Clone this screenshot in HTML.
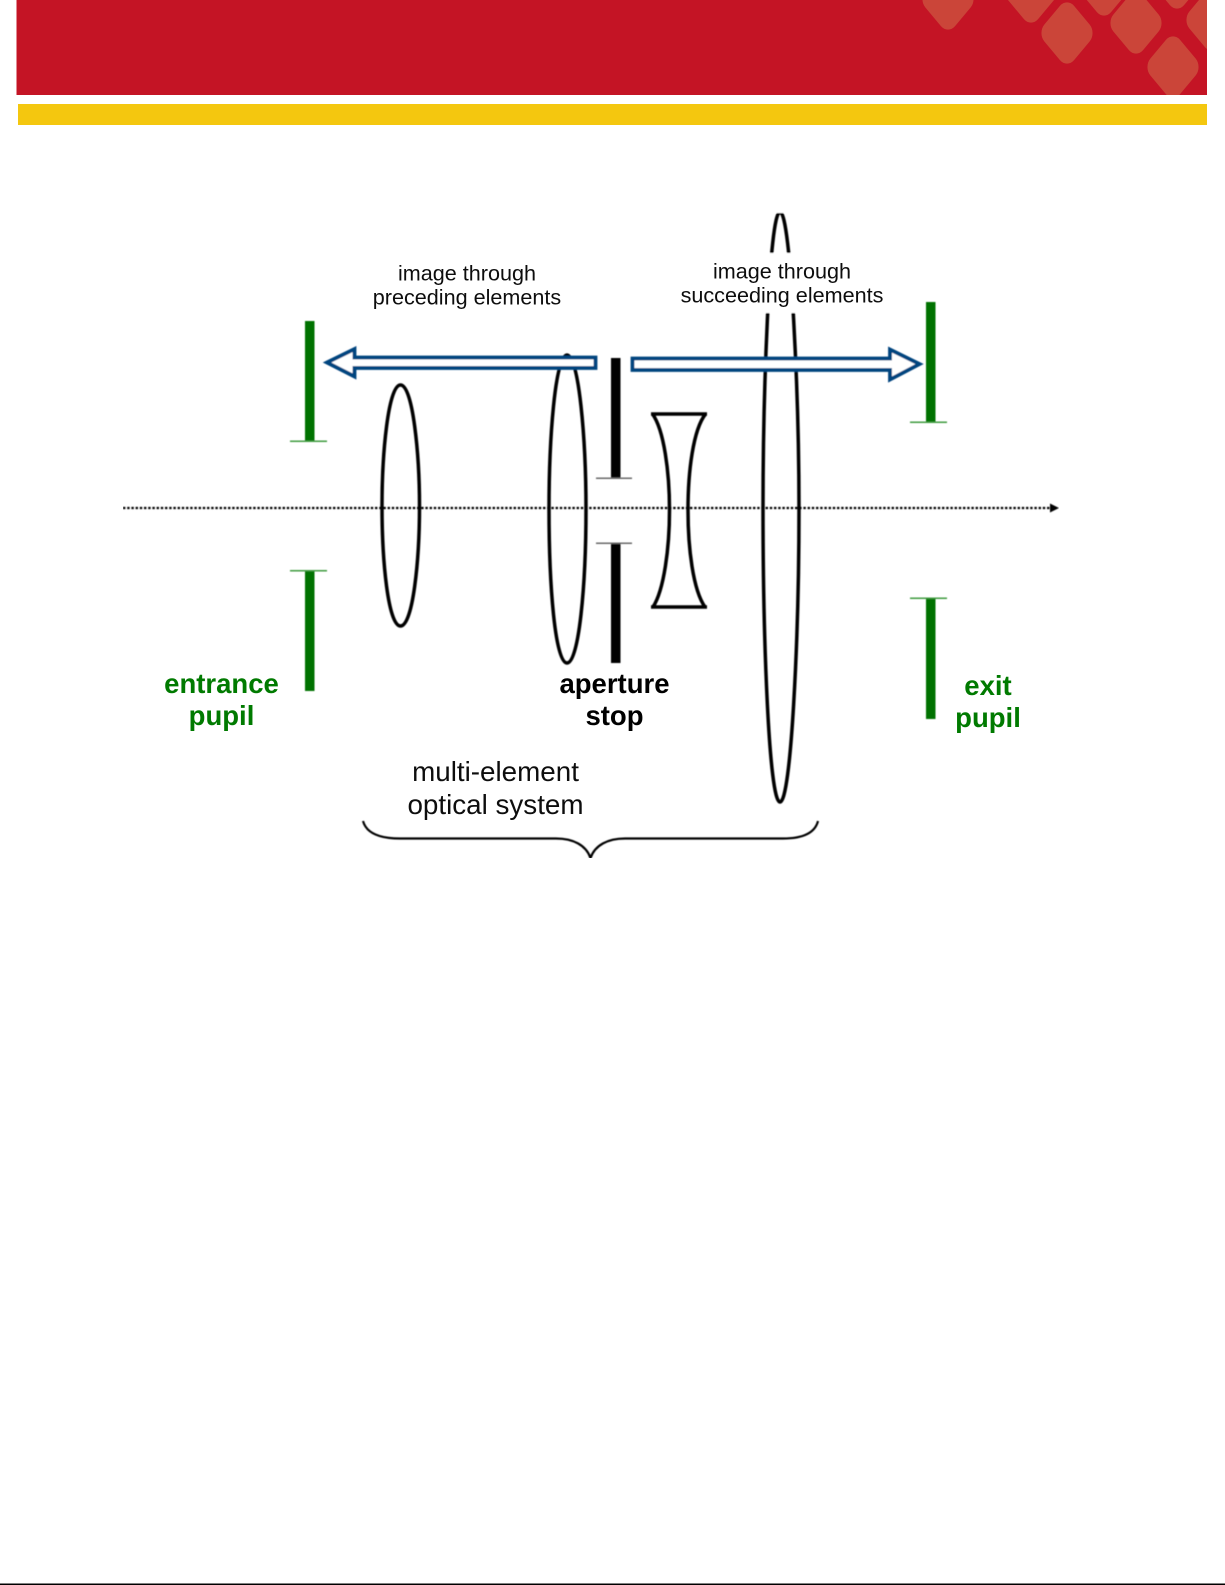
<!DOCTYPE html>
<html>
<head>
<meta charset="utf-8">
<style>
html,body{margin:0;padding:0;background:#fff}
svg{display:block}
.t{font-family:"Liberation Sans",Arial,sans-serif;text-anchor:middle}
</style>
</head>
<body>
<svg width="1225" height="1585" viewBox="0 0 1225 1585" xmlns="http://www.w3.org/2000/svg">
<rect width="1225" height="1585" fill="#fff"/>
<defs>
<clipPath id="band"><rect x="16.500" y="0" width="1190.500" height="95"/></clipPath>
<filter id="soft" x="0" y="0" width="100%" height="100%"><feGaussianBlur stdDeviation="0.45"/></filter>
<filter id="softer" x="0" y="0" width="100%" height="100%"><feGaussianBlur stdDeviation="0.25"/></filter>
</defs>
<rect x="16.500" y="0" width="1190.500" height="95" fill="#c41425"/>
<g clip-path="url(#band)" fill="#cb4539">
<rect x="-21" y="-21" width="42" height="42" rx="10" transform="translate(948,-1) scale(1,1.2) rotate(45)"/>
<rect x="-21" y="-21" width="42" height="42" rx="10" transform="translate(1031,-8) scale(1,1.2) rotate(45)"/>
<rect x="-21" y="-21" width="42" height="42" rx="10" transform="translate(1067,33) scale(1,1.2) rotate(45)"/>
<rect x="-21" y="-21" width="42" height="42" rx="10" transform="translate(1104,-15) scale(1,1.2) rotate(45)"/>
<rect x="-21" y="-21" width="42" height="42" rx="10" transform="translate(1136,23) scale(1,1.2) rotate(45)"/>
<rect x="-21" y="-21" width="42" height="42" rx="10" transform="translate(1177,-22) scale(1,1.2) rotate(45)"/>
<rect x="-21" y="-21" width="42" height="42" rx="10" transform="translate(1173,67) scale(1,1.2) rotate(45)"/>
<rect x="-21" y="-21" width="42" height="42" rx="10" transform="translate(1212,20) scale(1,1.2) rotate(45)"/>
</g>
<rect x="18" y="104" width="1189" height="21" fill="#f4c70f"/>

<g filter="url(#soft)">
<!-- axis -->
<line x1="123" y1="508" x2="1051" y2="508" stroke="#000" stroke-width="2.300" stroke-dasharray="2.400 1.800"/>
<polygon points="1050,503.500 1059,508 1050,512.500" fill="#000"/>

<!-- lenses -->
<g fill="none" stroke="#000" stroke-width="3.500">
<path d="M400.500 385 C388 385 382 455 382 506 C382 560 388 626 400.500 626 C413 626 419.500 560 419.500 506 C419.500 455 413 385 400.500 385 Z"/>
<path d="M567 355 C555 355 549 440 549 509 C549 585 555 663 567 663 C579 663 586 585 586 509 C586 440 579 355 567 355 Z"/>
<path d="M651 414 L707 414 M652.500 414 C664 430 669.500 472 669.500 510 C669.500 548 664 590 653 607 M705.500 414 C693 430 688 472 688 510 C688 548 693 590 705 607 M651 607 L707 607"/>
<path d="M780 212 C769 212 763 400 763 508 C763 640 769 802 780 802 C791 802 799 640 799 508 C799 400 791 212 780 212 Z"/>
</g>
<rect x="740" y="204" width="80" height="9" fill="#fff"/>

<!-- aperture stop -->
<rect x="611" y="358" width="9.500" height="120" fill="#000"/>
<rect x="596" y="477.500" width="36" height="1.500" fill="#666"/>
<rect x="611" y="543" width="9.500" height="120" fill="#000"/>
<rect x="596" y="542.500" width="36" height="1.500" fill="#666"/>

<!-- pupils -->
<g fill="#067206">
<rect x="305" y="321" width="9.500" height="120"/>
<rect x="305" y="571" width="9.500" height="120"/>
<rect x="926" y="302" width="9.500" height="120"/>
<rect x="926" y="598" width="9.500" height="121"/>
</g>
<g fill="#3e9a3e">
<rect x="290" y="440.500" width="37" height="1.500"/>
<rect x="290" y="570" width="37" height="1.500"/>
<rect x="910" y="421.500" width="37" height="1.500"/>
<rect x="910" y="597.500" width="37" height="1.500"/>
</g>

<!-- arrows -->
<g fill="#fff" stroke="#04447f" stroke-width="3.800">
<polygon points="327,362.500 354.500,349 354.500,357.500 595.500,357.500 595.500,368 354.500,368 354.500,376.500"/>
<polygon points="632.500,358.500 890,358.500 890,349.500 919.500,364 890,379.500 890,370 632.500,370"/>
</g>

<!-- brace -->
<path d="M363 821 C366 832 378 838.500 400 838.500 L556 838.500 C573 838.500 586 845 590.500 858 C595 845 608 838.500 625 838.500 L783 838.500 C803 838.500 815 833 818 821" fill="none" stroke="#000" stroke-width="2.200"/>

<!-- text mask -->
<rect x="680" y="253" width="205" height="60" fill="#fff"/>
</g>

<!-- labels -->
<g filter="url(#softer)">
<g class="t" fill="#111" font-size="21.600">
<text class="t" x="467" y="280.500">image through</text>
<text class="t" x="467" y="304.500">preceding elements</text>
<text class="t" x="782" y="278.500">image through</text>
<text class="t" x="782" y="302.500">succeeding elements</text>
</g>
<g class="t" fill="#111" font-size="27.800">
<text class="t" x="495.500" y="781">multi-element</text>
<text class="t" x="495.500" y="814">optical system</text>
</g>
<g class="t" fill="#067a06" font-size="27.500" font-weight="bold">
<text class="t" x="221.500" y="693">entrance</text>
<text class="t" x="221.500" y="725">pupil</text>
<text class="t" x="988" y="695">exit</text>
<text class="t" x="988" y="727">pupil</text>
</g>
<g class="t" fill="#000" font-size="27.500" font-weight="bold">
<text class="t" x="614.500" y="693">aperture</text>
<text class="t" x="614.500" y="725">stop</text>
</g>
</g>

<!-- bottom rule -->
<rect x="0" y="1583.500" width="1225" height="1.500" fill="#000"/>
</svg>
</body>
</html>
